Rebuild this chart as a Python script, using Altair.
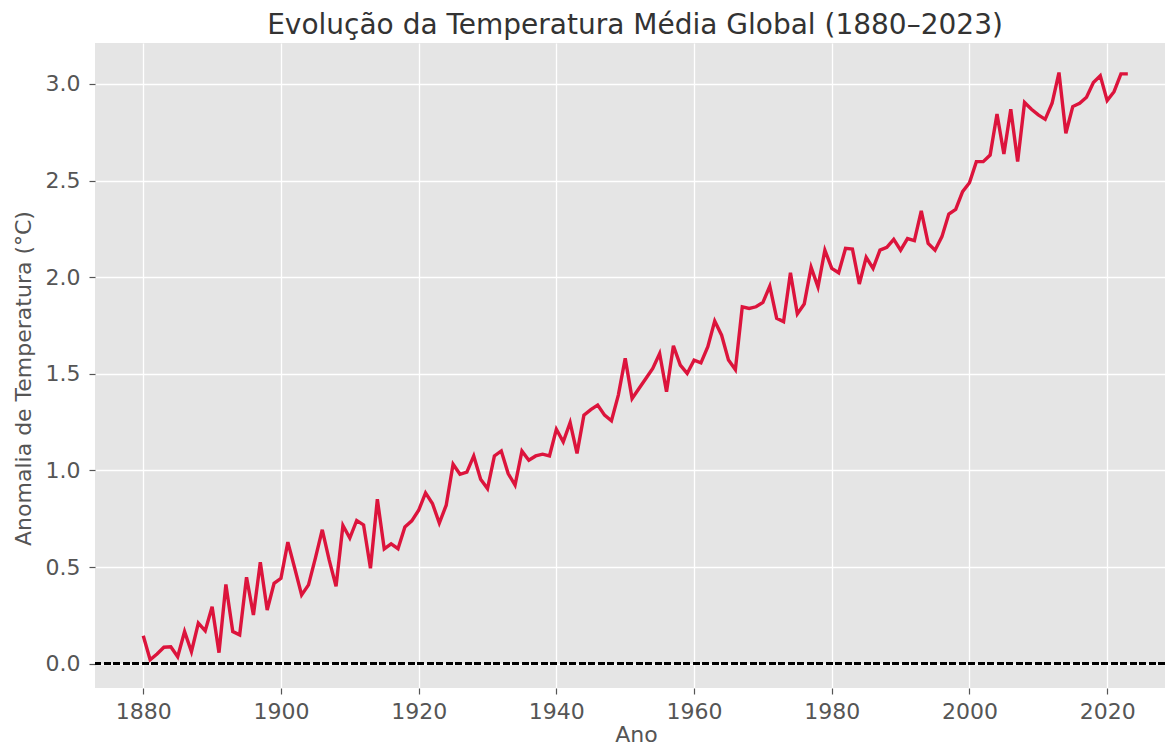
import altair as alt
import pandas as pd

years = list(range(1880, 2024))
anomaly = [
    0.145, 0.02, 0.05, 0.085, 0.088, 0.036, 0.166, 0.062, 0.21, 0.17,
    0.295, 0.057, 0.41, 0.166, 0.149, 0.447, 0.252, 0.525, 0.278, 0.416,
    0.442, 0.629, 0.494, 0.356, 0.408, 0.546, 0.693, 0.537, 0.40, 0.715,
    0.65, 0.741, 0.718, 0.494, 0.851, 0.594, 0.62, 0.595, 0.708, 0.739,
    0.794, 0.884, 0.829, 0.728, 0.82, 1.032, 0.98, 0.991, 1.075, 0.955,
    0.906, 1.075, 1.101, 0.984, 0.924, 1.10, 1.053, 1.075, 1.084, 1.075,
    1.213, 1.148, 1.248, 1.088, 1.286, 1.315, 1.338, 1.286, 1.257, 1.39,
    1.58, 1.372, 1.424, 1.476, 1.528, 1.605, 1.407, 1.645, 1.545, 1.502,
    1.571, 1.557, 1.64, 1.773, 1.70, 1.571, 1.522, 1.847, 1.838, 1.847,
    1.87, 1.954, 1.787, 1.77, 2.023, 1.81, 1.861, 2.051, 1.95, 2.14,
    2.046, 2.023, 2.149, 2.146, 1.965, 2.103, 2.046, 2.14, 2.154, 2.196,
    2.14, 2.20, 2.189, 2.343, 2.175, 2.14, 2.21, 2.327, 2.351, 2.443,
    2.489, 2.598, 2.598, 2.632, 2.845, 2.638, 2.869, 2.598, 2.904, 2.869,
    2.84, 2.817, 2.90, 3.059, 2.745, 2.883, 2.90, 2.931, 3.007, 3.042,
    2.914, 2.96, 3.052, 3.052,
]
x_ticks = [1880, 1900, 1920, 1940, 1960, 1980, 2000, 2020]
y_ticks = [0.0, 0.5, 1.0, 1.5, 2.0, 2.5, 3.0]

df = pd.DataFrame({"Ano": years, "Anomalia": anomaly})

FONT = "DejaVu Sans"
GRAY = "#555555"

x_axis = alt.Axis(
    values=x_ticks, format="d", title="Ano", domain=False,
    grid=True, gridColor="white", gridWidth=1.3,
    tickColor=GRAY, tickSize=6, tickWidth=1.2,
    labelFont=FONT, labelFontSize=22, labelColor=GRAY, labelPadding=7,
    titleFont=FONT, titleFontSize=22, titleColor=GRAY, titleFontWeight="normal",
    titleX=541, titleY=53, titleBaseline="alphabetic",
)
y_axis = alt.Axis(
    values=y_ticks, format=".1f", title="Anomalia de Temperatura (°C)", domain=False,
    grid=True, gridColor="white", gridWidth=1.3,
    tickColor=GRAY, tickSize=6, tickWidth=1.2,
    labelFont=FONT, labelFontSize=22, labelColor=GRAY, labelPadding=9,
    titleFont=FONT, titleFontSize=22, titleColor=GRAY, titleFontWeight="normal",
    titleX=-72, titleY=335, titleBaseline="middle", titleAngle=270,
)

line = alt.Chart(df).mark_line(color="#DC143C", strokeWidth=3.4).encode(
    x=alt.X("Ano:Q", scale=alt.Scale(domain=[1872.99, 2028.4], nice=False, zero=False), axis=x_axis),
    y=alt.Y("Anomalia:Q", scale=alt.Scale(domain=[-0.1258, 3.212], nice=False, zero=False), axis=y_axis),
)

zero = alt.Chart(df).mark_rule(color="black", strokeWidth=1.7, strokeDash=[6.3, 3.2]).encode(
    y=alt.datum(0)
)

chart = alt.layer(line, zero).properties(
    width=1070,
    height=645,
    autosize=alt.AutoSizeParams(type="none"),
    padding={"left": 87, "top": 35, "right": 0, "bottom": 58},
    title=alt.TitleParams(
        "Evolução da Temperatura Média Global (1880–2023)",
        font=FONT, fontSize=28, fontWeight="normal", color="#333333",
        anchor="middle", offset=3, dx=5,
    ),
).configure_view(fill="#E5E5E5", strokeWidth=0)

chart.save("out.html", embed_options={"renderer": "svg", "actions": False})
